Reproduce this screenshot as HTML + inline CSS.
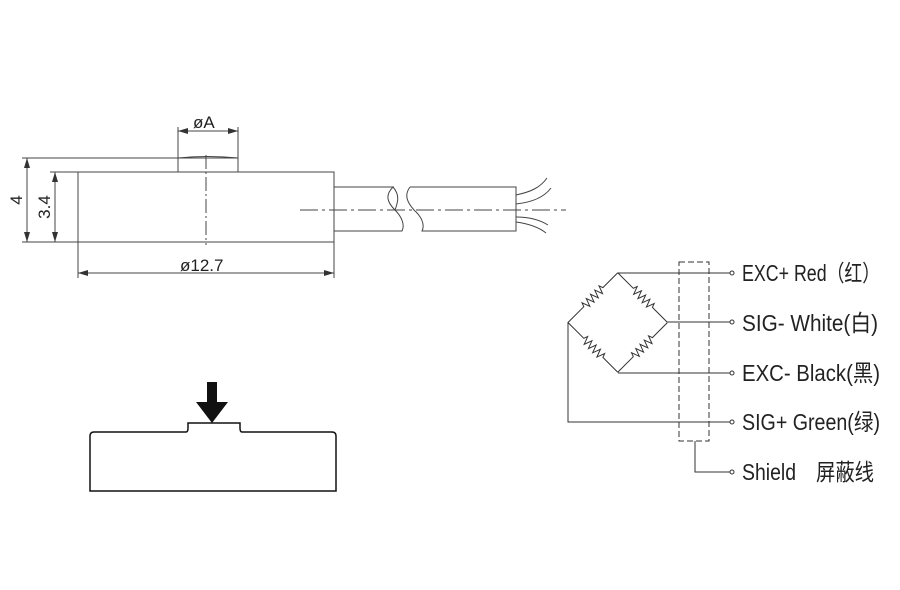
<!DOCTYPE html>
<html><head><meta charset="utf-8"><style>
html,body{margin:0;padding:0;background:#fff;}
svg{display:block;}
text{font-family:"Liberation Sans","Noto Sans CJK SC",sans-serif;fill:#222;}
</style></head><body>
<svg width="900" height="590" viewBox="0 0 900 590" xmlns="http://www.w3.org/2000/svg">
<defs>
<marker id="a" viewBox="0 0 10 6" refX="10" refY="3" markerWidth="10" markerHeight="6" orient="auto-start-reverse" markerUnits="userSpaceOnUse"><path d="M0,0 L10,3 L0,6 Z" fill="#333"/></marker>
<path id="r" d="M-35,0 H-13 l1.5,-4 l3,8 l3,-8 l3,8 l3,-8 l3,8 l3,-8 l3,8 l3,-8 l1.5,4 H35"/>
</defs>
<g stroke="#444" stroke-width="1" fill="none">
<rect x="78" y="172" width="256" height="70"/>
<path d="M178,172 V158 H238 V172"/>
<path d="M178,158 Q207,155 238,158"/>
<path d="M206,155 V245" stroke-dasharray="14,3,2,3"/>
<path d="M178,158 V127 M238,158 V127"/>
<path d="M178,131 H238" marker-start="url(#a)" marker-end="url(#a)"/>
<path d="M22,158 H178 M22,242 H78"/>
<path d="M27,158 V242" marker-start="url(#a)" marker-end="url(#a)"/>
<path d="M50,172 H78"/>
<path d="M55,172 V242" marker-start="url(#a)" marker-end="url(#a)"/>
<path d="M78,242 V278 M334,242 V278"/>
<path d="M78,273 H334" marker-start="url(#a)" marker-end="url(#a)"/>
<path d="M334,187 H393 C385,195 387,202 395,210 C402,217 405,225 402,231 H334"/>
<path d="M393,187 C400,195 398,202 395,210"/>
<path d="M410,187 H516 V231 H422 C425,225 422,217 414,210 C407,202 404,195 410,187"/>
<path d="M300,210 H566" stroke-dasharray="18,4,3,4"/>
<path d="M516,195 C530,192 540,188 547,178 M516,204 C535,202 545,196 551,188 M516,217 C530,217 540,220 548,225 M516,222 C530,224 540,228 546,233"/>
</g>
<path d="M90,491 V436 Q90,432 94,432 H186 Q188,432 188,428 V423 H240 V428 Q240,432 242,432 H332 Q336,432 336,436 V491 Z" fill="none" stroke="#111" stroke-width="1.5"/>
<path d="M207,382 H217 V402 H228 L212,423 L196,402 H207 Z" fill="#111"/>
<g font-size="17" fill="#333">
<text x="193" y="128">øA</text>
<text x="180" y="271">ø12.7</text>
<text transform="translate(22,200) rotate(-90)" text-anchor="middle">4</text>
<text transform="translate(50,207) rotate(-90)" text-anchor="middle">3.4</text>
</g>
<g stroke="#333" stroke-width="1" fill="none">
<path d="M618,273 H730 M667,322 H730 M618,373 H730 M568,322 V422 H730"/>
<use href="#r" transform="translate(593,297.5) rotate(-45)"/>
<use href="#r" transform="translate(642.5,297.5) rotate(45)"/>
<use href="#r" transform="translate(593,347.5) rotate(45)"/>
<use href="#r" transform="translate(642.5,347.5) rotate(-45)"/>
<rect x="679" y="262" width="30" height="179" stroke-dasharray="6,3"/>
<path d="M695,441 V472 H730"/>
<circle cx="732" cy="273" r="2" fill="#fff"/><circle cx="732" cy="322" r="2" fill="#fff"/><circle cx="732" cy="373" r="2" fill="#fff"/><circle cx="732" cy="422" r="2" fill="#fff"/><circle cx="732" cy="472" r="2" fill="#fff"/>
</g>
<g font-size="23" fill="#222">
<text x="742" y="281" textLength="138" lengthAdjust="spacingAndGlyphs">EXC+ Red（红）</text>
<text x="742" y="331" textLength="136" lengthAdjust="spacingAndGlyphs">SIG- White(白)</text>
<text x="742" y="381" textLength="138" lengthAdjust="spacingAndGlyphs">EXC- Black(黑)</text>
<text x="742" y="430" textLength="138" lengthAdjust="spacingAndGlyphs">SIG+ Green(绿)</text>
<text x="742" y="480" textLength="54" lengthAdjust="spacingAndGlyphs">Shield</text>
<text x="816" y="480" textLength="58" lengthAdjust="spacingAndGlyphs">屏蔽线</text>
</g>
</svg>
</body></html>
